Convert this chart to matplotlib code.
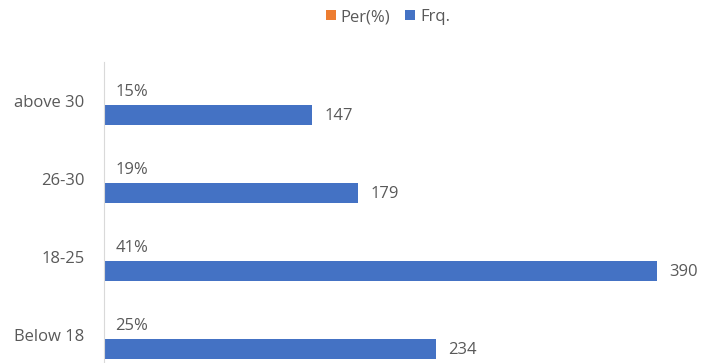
import numpy as np
import matplotlib
matplotlib.use("Agg")
import matplotlib.pyplot as plt

categories = ["Below 18", "18-25", "26-30", "above 30"]
per = [0.25, 0.41, 0.19, 0.15]
frq = [234, 390, 179, 147]

blue = "#4472C4"
orange = "#ED7D31"
grey = "#595959"

plt.rcParams["font.family"] = ["Open Sans", "DejaVu Sans"]

fig = plt.figure(figsize=(7.13, 3.63), dpi=100)
ax = fig.add_axes([104 / 713, -11 / 363, 609 / 713, 312 / 363])

y = np.arange(len(categories))
h = 0.26
b1 = ax.barh(y + 0.11, per, height=h, color=orange, label="Per(%)")
b2 = ax.barh(y - 0.18, frq, height=h, color=blue, label="Frq.")

for yi, v in zip(y, per):
    ax.annotate(f"{v:.0%}", (v, yi + 0.11), xytext=(8, 0), textcoords="offset points",
                va="center", ha="left", fontsize=12, color=grey)
for yi, v in zip(y, frq):
    ax.annotate(str(v), (v, yi - 0.18), xytext=(9, -1), textcoords="offset points",
                va="center", ha="left", fontsize=12, color=grey)

ax.set_xlim(0, 609 / 1.418)
ax.set_ylim(-0.5, 3.5)
ax.set_yticks(y)
ax.set_yticklabels(categories, fontsize=12, color=grey)
ax.tick_params(axis="y", length=0, pad=14)
ax.set_xticks([])
for s in ["top", "right", "bottom"]:
    ax.spines[s].set_visible(False)
ax.spines["left"].set_color("#d9d9d9")

fig.legend(handles=[b1, b2], loc="center", bbox_to_anchor=(388 / 713, 1 - 17 / 363),
           ncol=2, frameon=False, fontsize=12, handlelength=0.6, handleheight=0.6,
           handletextpad=0.3, columnspacing=0.9, labelcolor=grey)

fig.savefig("out.png", dpi=100)
